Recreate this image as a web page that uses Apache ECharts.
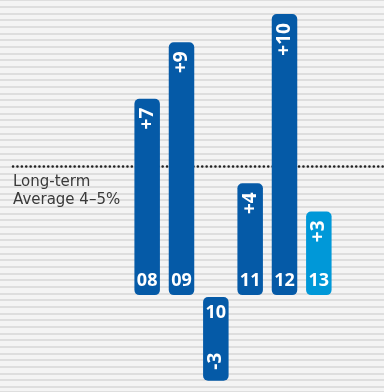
<!DOCTYPE html>
<html>
<head>
<meta charset="utf-8">
<script src="https://cdn.jsdelivr.net/npm/echarts@6/dist/echarts.min.js"></script>
<style>
  html, body { margin: 0; padding: 0; background: #f4f4f4; }
  #chart { width: 384px; height: 392px; }
</style>
</head>
<body>
<div id="chart"></div>
<script>
// ---- data ----
const categories = ['08', '09', '10', '11', '12', '13'];
const values = [7, 9, -3, 4, 10, 3];
const valueLabels = ['+7', '+9', '-3', '+4', '+10', '+3'];
const highlighted = ['13'];
const averageValue = 4.6;
const averageText = 'Long-term\nAverage 4–5%';

// ---- styling ----
const DARK = '#055aa7';
const LIGHT = '#0098d8';
const FONT = '"Open Sans", "Noto Sans", sans-serif';
const Y_MIN = -3.4, Y_MAX = 10.5;

const barData = categories.map((c, i) => [i, values[i]]);

const chart = echarts.init(document.getElementById('chart'));

chart.setOption({
  backgroundColor: '#f4f4f4',
  animation: false,
  title: {
    text: averageText,
    left: 13,
    top: 173,
    padding: 0,
    textStyle: { fontFamily: '"DejaVu Sans", sans-serif', fontSize: 15, fontWeight: 'normal', color: '#3a3a3a', lineHeight: 18 }
  },
  grid: [
    { left: 130, width: 206, top: 0, bottom: 0 },
    { left: 0, right: 0, top: 0, bottom: 0 }
  ],
  xAxis: [
    { type: 'category', data: categories, gridIndex: 0, show: false },
    { type: 'value', min: 0, max: 384, gridIndex: 1, show: false }
  ],
  yAxis: [
    { type: 'value', min: Y_MIN, max: Y_MAX, gridIndex: 0, show: false },
    { type: 'value', min: Y_MIN, max: Y_MAX, gridIndex: 1, show: false },
    {
      type: 'value', min: 0, max: 392, interval: 20 / 3, inverse: true, gridIndex: 1,
      axisLine: { show: false }, axisTick: { show: false }, axisLabel: { show: false },
      splitLine: { show: true, lineStyle: { color: '#dedede', width: 2 } }
    }
  ],
  series: [
    {
      type: 'line',
      xAxisIndex: 1, yAxisIndex: 1,
      data: [[13, averageValue], [384, averageValue]],
      symbol: 'none',
      z: 1,
      lineStyle: { color: '#222', width: 2.5, type: [0.1, 4.3], cap: 'round' }
    },
    {
      type: 'custom',
      xAxisIndex: 0, yAxisIndex: 0,
      z: 5,
      data: barData,
      encode: { x: 0, y: 1 },
      renderItem: function (params, api) {
        const i = api.value(0);
        const v = api.value(1);
        const base = api.coord([i, 0]);
        const end = api.coord([i, v]);
        const w = 25.5;
        const cx = base[0];
        let top, bottom;
        if (v >= 0) { top = end[1]; bottom = base[1] - 1; }
        else { top = base[1] + 1; bottom = end[1]; }
        const color = highlighted.indexOf(categories[i]) >= 0 ? LIGHT : DARK;
        const textFont = { fontFamily: FONT, fontWeight: 'bold', fill: '#fff' };
        const children = [
          { type: 'rect', shape: { x: cx - w / 2, y: top, width: w, height: bottom - top, r: 5 }, style: { fill: color } },
          {
            type: 'text',
            x: cx, y: v >= 0 ? bottom - 14 : top + 15.5,
            style: Object.assign({ text: categories[i], fontSize: 18, align: 'center', verticalAlign: 'middle' }, textFont)
          },
          {
            type: 'text',
            x: cx, y: v >= 0 ? top + 9 : bottom - 11,
            rotation: Math.PI / 2,
            style: Object.assign({ text: valueLabels[i], fontSize: 19, align: v >= 0 ? 'right' : 'left', verticalAlign: 'middle' }, textFont)
          }
        ];
        return { type: 'group', children: children };
      }
    }
  ]
});
</script>
</body>
</html>
